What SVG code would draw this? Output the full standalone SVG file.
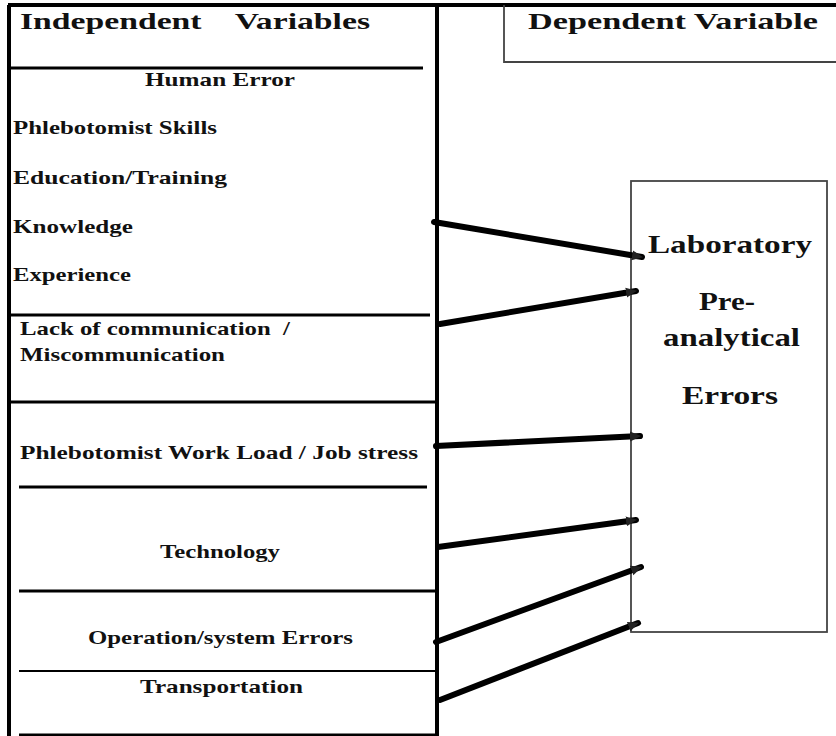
<svg xmlns="http://www.w3.org/2000/svg" width="836" height="736" viewBox="0 0 836 736">
<style>
  text { font-family: "Liberation Serif", "Times New Roman", serif; font-weight: bold; fill: #111; }
  .h { font-size: 24px; }
  .t { font-size: 19px; }
  .big { font-size: 26px; }
  .thick { stroke: #000; stroke-width: 4; fill: none; }
  .div { stroke: #000; stroke-width: 3; fill: none; }
  .thin { stroke: #444; stroke-width: 1.8; fill: none; }
  .conn { stroke: #000; stroke-width: 6; fill: none; stroke-linecap: round; }
</style>
<defs>
  <marker id="arr" markerUnits="userSpaceOnUse" markerWidth="12" markerHeight="12" viewBox="0 0 12 12" refX="10" refY="6" orient="auto">
    <path d="M0,1 L11,6 L0,11 Z" fill="#222"/>
  </marker>
</defs>
<rect width="836" height="736" fill="#fff"/>

<g id="independent-frame">
  <line class="thick" x1="8" y1="5" x2="836" y2="5"/>
  <line class="thick" x1="9" y1="5" x2="9" y2="736"/>
  <line class="thick" x1="437" y1="5" x2="437" y2="736"/>
  <line class="div" x1="19" y1="735" x2="437" y2="735"/>
</g>

<g id="indep-header">
  <text class="h" x="20" y="29" textLength="350" lengthAdjust="spacingAndGlyphs" xml:space="preserve">Independent    Variables</text>
  <line class="div" x1="10" y1="68" x2="423" y2="68"/>
</g>

<g id="human-error">
  <text class="t" x="145" y="86" textLength="150" lengthAdjust="spacingAndGlyphs">Human Error</text>
  <text class="t" x="13" y="134" textLength="204" lengthAdjust="spacingAndGlyphs">Phlebotomist Skills</text>
  <text class="t" x="13" y="184" textLength="214" lengthAdjust="spacingAndGlyphs">Education/Training</text>
  <text class="t" x="13" y="233" textLength="120" lengthAdjust="spacingAndGlyphs">Knowledge</text>
  <text class="t" x="13" y="281" textLength="118" lengthAdjust="spacingAndGlyphs">Experience</text>
  <line class="div" x1="10" y1="315" x2="430" y2="315"/>
</g>

<g id="communication">
  <text class="t" x="20" y="335" textLength="270" lengthAdjust="spacingAndGlyphs" xml:space="preserve">Lack of communication  /</text>
  <text class="t" x="20" y="361" textLength="205" lengthAdjust="spacingAndGlyphs">Miscommunication</text>
  <line class="div" x1="10" y1="402" x2="435" y2="402"/>
</g>

<g id="workload">
  <text class="t" x="20" y="459" textLength="398" lengthAdjust="spacingAndGlyphs">Phlebotomist Work Load / Job stress</text>
  <line class="div" x1="19" y1="487" x2="427" y2="487"/>
</g>

<g id="technology">
  <text class="t" x="160" y="558" textLength="120" lengthAdjust="spacingAndGlyphs">Technology</text>
  <line class="div" x1="19" y1="591" x2="435" y2="591"/>
</g>

<g id="operation">
  <text class="t" x="88" y="644" textLength="265" lengthAdjust="spacingAndGlyphs">Operation/system Errors</text>
  <line x1="19" y1="671" x2="435" y2="671" stroke="#000" stroke-width="2"/>
</g>

<g id="transportation">
  <text class="t" x="140" y="693" textLength="163" lengthAdjust="spacingAndGlyphs">Transportation</text>
</g>

<g id="dep-header">
  <polyline class="thin" points="504,5 504,62 836,62"/>
  <text class="h" x="528" y="29" textLength="290" lengthAdjust="spacingAndGlyphs">Dependent Variable</text>
</g>

<g id="lab-errors">
  <rect class="thin" x="631" y="181" width="196" height="451"/>
  <text class="big" x="648" y="253" textLength="164" lengthAdjust="spacingAndGlyphs">Laboratory</text>
  <text class="big" x="699" y="310" textLength="56" lengthAdjust="spacingAndGlyphs">Pre-</text>
  <text class="big" x="663" y="346" textLength="137" lengthAdjust="spacingAndGlyphs">analytical</text>
  <text class="big" x="682" y="404" textLength="96" lengthAdjust="spacingAndGlyphs">Errors</text>
</g>

<g id="connectors">
  <line class="conn" x1="434" y1="222" x2="642" y2="257" marker-end="url(#arr)"/>
  <line class="conn" x1="440" y1="324" x2="636" y2="291" marker-end="url(#arr)"/>
  <line class="conn" x1="436" y1="446" x2="640" y2="436" marker-end="url(#arr)"/>
  <line class="conn" x1="438" y1="547" x2="636" y2="520" marker-end="url(#arr)"/>
  <line class="conn" x1="436" y1="642" x2="641" y2="567" marker-end="url(#arr)"/>
  <line class="conn" x1="440" y1="700" x2="638" y2="623" marker-end="url(#arr)"/>
</g>
</svg>
